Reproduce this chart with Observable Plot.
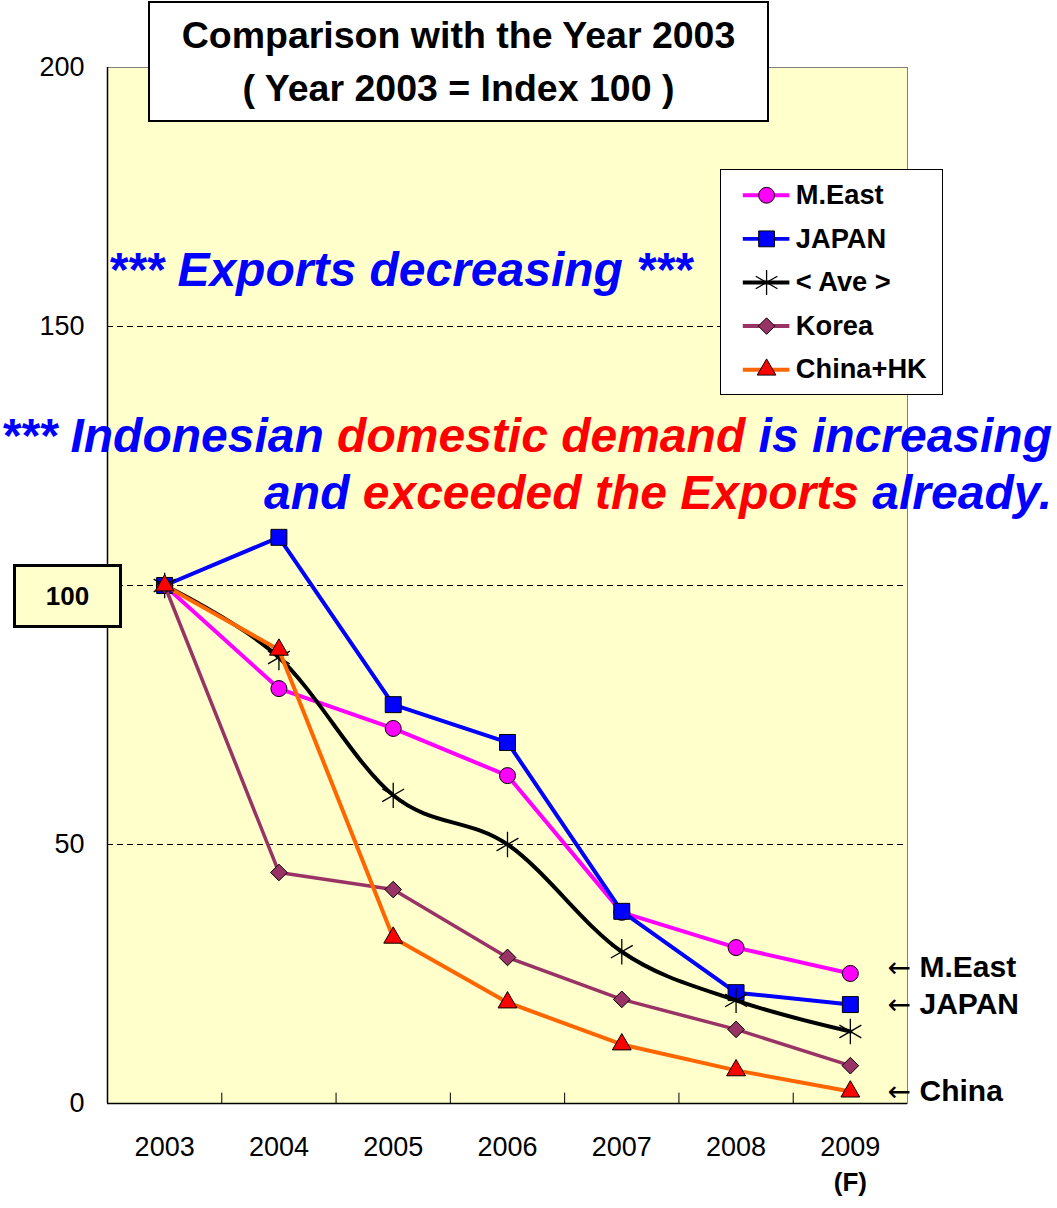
<!DOCTYPE html>
<html>
<head>
<meta charset="utf-8">
<script src="https://cdn.jsdelivr.net/npm/d3@7"></script>
<script src="https://cdn.jsdelivr.net/npm/@observablehq/plot@0.6"></script>
<style>
  html, body { margin: 0; padding: 0; background: #fff; }
  #wrap { position: relative; width: 1057px; height: 1208px; font-family: "Liberation Sans", Arial, sans-serif; }
  #wrap svg { display: block; }
  .ov { position: absolute; white-space: nowrap; }
  .title { left: 148px; top: 1px; width: 621px; height: 121px; box-sizing: border-box; border: 2px solid #000; background: #fff;
           text-align: center; font-weight: bold; font-size: 37.5px; line-height: 53px; padding-top: 6px; }
  .ann { font-weight: bold; font-style: italic; font-size: 48px; line-height: 48px; }
  .blue { color: #0000FF; } .red { color: #FF0000; }
  .box100 { width: 109px; height: 64px; box-sizing: border-box; border: 3px solid #000; background: #FFFFCC;
            font-weight: bold; font-size: 26px; line-height: 58px; text-align: center; }
  .legend { left: 720px; top: 169px; width: 223px; height: 226px; box-sizing: border-box; border: 1px solid #000; background: #fff; }
  .legend svg { position: absolute; left: -1px; top: -1px; }
</style>
</head>
<body>
<div id="wrap"></div>
<script>
// ---- data ----
const years = [2003, 2004, 2005, 2006, 2007, 2008, 2009];
const yearLabels = ["2003", "2004", "2005", "2006", "2007", "2008", "2009"];
const forecastNote = "(F)";
const seriesNames = ["M.East", "JAPAN", "< Ave >", "Korea", "China+HK"];
const mEast = [100, 80.1, 72.4, 63.3, 36.9, 30.1, 25.1];
const japan = [100, 109.3, 77.0, 69.7, 37.1, 21.4, 19.1];
const ave   = [100, 86.1, 59.5, 50.0, 29.3, 19.9, 13.9];
const korea = [100, 44.6, 41.3, 28.2, 20.1, 14.3, 7.3];
const china = [100, 87.6, 32.0, 19.5, 11.4, 6.4, 2.3];
const yTickValues = [0, 50, 150, 200];
const gridValues = [50, 100, 150];
const baseIndex = 100;
const endLabelSeries = ["M.East", "JAPAN", "China+HK"];
const endLabelTexts = ["M.East", "JAPAN", "China"];

// ---- styles ----
const font = '"Liberation Sans", Arial, sans-serif';
const seriesValues = [mEast, japan, ave, korea, china];
const styleOf = {
  "M.East":   {stroke: "#FF00FF", fill: "#FF00FF", symbol: "circle",   r: 8,   sw: 4,   curve: "linear"},
  "JAPAN":    {stroke: "#0000FF", fill: "#0000FF", symbol: "square",   r: 9,   sw: 4,   curve: "linear"},
  "< Ave >":  {stroke: "#000000", fill: "none",    symbol: "asterisk", r: 12,  sw: 4,   curve: "cardinal"},
  "Korea":    {stroke: "#993366", fill: "#993366", symbol: "diamond2", r: 7.5, sw: 3.5, curve: "linear"},
  "China+HK": {stroke: "#FF6600", fill: "#FF0000", symbol: "triangle", r: 7,   sw: 4,   curve: "linear"}
};

const rows = seriesNames.flatMap((name, i) =>
  years.map((yr, j) => ({series: name, year: yr, value: seriesValues[i][j]})));

const boundaries = years.slice(1).map(y => y - 0.5);
const xDomain = [years[0] - 0.5, years[years.length - 1] + 0.5];
const yDomain = [0, 200];

const seriesMarks = seriesNames.flatMap(name => {
  const s = styleOf[name];
  const data = rows.filter(d => d.series === name);
  return [
    Plot.line(data, {x: "year", y: "value", stroke: s.stroke, strokeWidth: s.sw, curve: s.curve}),
    Plot.dot(data, {x: "year", y: "value", symbol: () => s.symbol, r: s.r,
      fill: s.fill, stroke: "#000", strokeWidth: s.symbol === "asterisk" ? 1.3 : 1})
  ];
});

// end labels: anchored to the last value, spread apart so they do not collide
const plotHeightPx = 1208 - 67 - 105;
const minGapPx = 37;
const minGap = minGapPx * (yDomain[1] - yDomain[0]) / plotHeightPx;
const endLabels = endLabelSeries.map((name, i) => ({
  text: endLabelTexts[i],
  value: seriesValues[seriesNames.indexOf(name)][years.length - 1]
})).sort((a, b) => a.value - b.value);
endLabels.forEach((d, i) => {
  d.pos = d.value;
  if (i > 0 && d.pos - endLabels[i - 1].pos < minGap) d.pos = endLabels[i - 1].pos + minGap;
});

const chart = Plot.plot({
  width: 1057, height: 1208,
  marginLeft: 107, marginRight: 150, marginTop: 67, marginBottom: 105,
  style: {fontFamily: font, fontSize: "27px", color: "#000", background: "transparent", overflow: "visible"},
  x: {domain: xDomain, ticks: years, tickFormat: d => yearLabels[years.indexOf(d)], tickSize: 0, tickPadding: 33, label: null},
  y: {domain: yDomain, ticks: yTickValues, tickSize: 0, tickPadding: 23, label: null},
  symbol: {type: "identity"},
  marks: [
    Plot.frame({fill: "#FFFFCC", stroke: "#808080"}),
    Plot.ruleY(gridValues, {stroke: "#000", strokeWidth: 1, strokeDasharray: "6,4"}),
    Plot.ruleX(boundaries, {y1: 0, y2: 2, stroke: "#000", strokeWidth: 1}),
    Plot.ruleY([0], {stroke: "#000", strokeWidth: 1.5}),
    Plot.ruleX([xDomain[0]], {stroke: "#000", strokeWidth: 1.5}),
    ...seriesMarks,
    Plot.text(endLabels, {
      y: "pos", text: () => "\u2190", frameAnchor: "right",
      dx: -20, textAnchor: "start", fontFamily: '"DejaVu Sans", sans-serif', fontSize: 28, fill: "#000"
    }),
    Plot.text(endLabels, {
      y: "pos", text: "text", frameAnchor: "right",
      dx: 12, textAnchor: "start", fontWeight: "bold", fontSize: 30, fill: "#000"
    }),
    Plot.text([years[years.length - 1]], {
      x: d => d, text: () => forecastNote, frameAnchor: "bottom", dy: 87,
      fontWeight: "bold", fontSize: 26, fill: "#000"
    })
  ]
});

const wrap = document.getElementById("wrap");
wrap.appendChild(chart);

// title box
const title = document.createElement("div");
title.className = "ov title";
title.innerHTML = "Comparison with the Year 2003<br>( Year 2003 = Index 100 )";
wrap.appendChild(title);

// annotations
const a1 = document.createElement("div");
a1.className = "ov ann blue";
a1.style.left = "108px"; a1.style.top = "246px";
a1.textContent = "*** Exports decreasing ***";
wrap.appendChild(a1);

const a2 = document.createElement("div");
a2.className = "ov ann";
a2.style.right = "5px"; a2.style.top = "412px"; a2.style.textAlign = "right";
a2.innerHTML = '<span class="blue">*** Indonesian </span><span class="red">domestic demand</span><span class="blue"> is increasing</span>';
wrap.appendChild(a2);

const a3 = document.createElement("div");
a3.className = "ov ann";
a3.style.right = "5px"; a3.style.top = "469px"; a3.style.textAlign = "right";
a3.innerHTML = '<span class="blue">and </span><span class="red">exceeded the Exports</span><span class="blue"> already.</span>';
wrap.appendChild(a3);

// boxed 100 label, placed with the y scale
const yPos = chart.scale("y").apply(baseIndex);
const b = document.createElement("div");
b.className = "ov box100";
b.style.left = "13px"; b.style.top = (yPos - 21) + "px";
b.textContent = String(baseIndex);
wrap.appendChild(b);

// legend
const legendDiv = document.createElement("div");
legendDiv.className = "ov legend";
const legend = Plot.plot({
  width: 223, height: 226,
  marginLeft: 23, marginRight: 153, marginTop: 25, marginBottom: 24,
  style: {fontFamily: font, background: "transparent", overflow: "visible"},
  y: {type: "point", domain: seriesNames, padding: 0, axis: null},
  symbol: {type: "identity"},
  r: {type: "identity"},
  marks: [
    Plot.ruleY(seriesNames, {y: d => d, stroke: d => styleOf[d].stroke, strokeWidth: 4}),
    Plot.dot(seriesNames, {y: d => d, symbol: d => styleOf[d].symbol, r: d => styleOf[d].r,
      fill: d => styleOf[d].fill, stroke: "#000", strokeWidth: d => styleOf[d].symbol === "asterisk" ? 1.3 : 1}),
    Plot.text(seriesNames, {y: d => d, text: d => d, frameAnchor: "right", dx: 6, textAnchor: "start",
      fontWeight: "bold", fontSize: 27.5, fill: "#000"})
  ]
});
legendDiv.appendChild(legend);
wrap.appendChild(legendDiv);
</script>
</body>
</html>
